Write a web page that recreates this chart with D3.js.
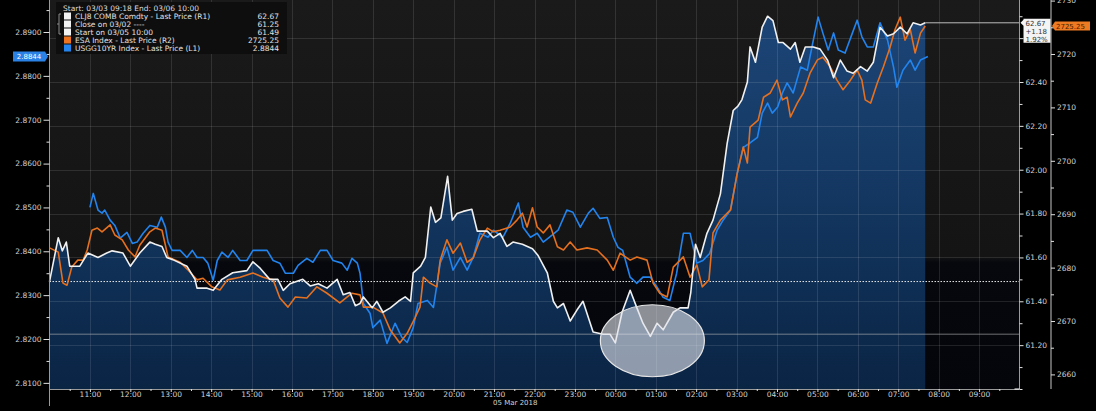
<!DOCTYPE html>
<html><head><meta charset="utf-8">
<script src="https://cdn.jsdelivr.net/npm/d3@7"></script>
<style>
html,body{margin:0;padding:0;background:#000;overflow:hidden}
svg{display:block;font-family:"DejaVu Sans",sans-serif}
</style></head><body>
<svg id="chart" width="1096" height="411"></svg>
<script>
// ---------- DATA ----------
// times are "HH:MM"; hours before 10 belong to 06 Mar 2018, the rest to 05 Mar 2018
const clTimes = ["10:00","10:13","10:19","10:25","10:30","10:35","10:45","10:57","11:12","11:25","11:33","11:49","12:00","12:14","12:29","12:37","12:47","12:54","13:03","13:24","13:36","13:39","13:54","14:03","14:16","14:32","14:53","15:02","15:13","15:27","15:39","15:47","15:57","16:16","16:27","16:39","16:52","17:07","17:16","17:26","17:34","17:41","17:46","17:59","18:06","18:15","18:26","18:38","18:48","18:56","19:00","19:11","19:18","19:26","19:33","19:41","19:51","19:58","20:05","20:14","20:27","20:35","20:50","20:59","21:09","21:19","21:28","21:42","21:57","22:05","22:19","22:28","22:34","22:43","22:53","23:03","23:12","23:27","23:42","23:52","00:00","00:10","00:22","00:32","00:41","00:52","01:02","01:11","01:26","01:36","01:48","01:52","01:59","02:06","02:16","02:25","02:36","02:46","02:55","03:02","03:08","03:16","03:20","03:28","03:38","03:46","03:54","04:02","04:09","04:20","04:27","04:34","04:42","04:54","05:04","05:15","05:24","05:34","05:44","05:53","06:04","06:14","06:23","06:33","06:44","06:53","07:03","07:13","07:22","07:33","07:40"];
const clValues = [61.49,61.69,61.63,61.67,61.56,61.56,61.56,61.62,61.60,61.62,61.63,61.62,61.56,61.62,61.67,61.66,61.65,61.60,61.59,61.56,61.50,61.46,61.46,61.45,61.50,61.53,61.54,61.58,61.55,61.50,61.50,61.45,61.48,61.50,61.47,61.48,61.46,61.50,61.43,61.44,61.38,61.39,61.42,61.37,61.40,61.35,61.37,61.40,61.42,61.40,61.53,61.56,61.60,61.83,61.76,61.78,61.97,61.77,61.80,61.81,61.82,61.72,61.72,61.69,61.71,61.65,61.67,61.66,61.64,61.61,61.53,61.40,61.37,61.39,61.31,61.36,61.40,61.26,61.25,61.25,61.21,61.35,61.45,61.37,61.30,61.24,61.30,61.27,61.35,61.37,61.37,61.44,61.66,61.60,61.71,61.77,61.89,62.12,62.27,62.29,62.32,62.40,62.56,62.49,62.65,62.70,62.68,62.58,62.58,62.55,62.58,62.49,62.56,62.56,62.55,62.50,62.42,62.50,62.45,62.44,62.47,62.45,62.49,62.65,62.61,62.62,62.65,62.62,62.67,62.66,62.67];

const esTimes = ["10:00","10:13","10:20","10:26","10:33","10:42","10:50","10:56","11:03","11:11","11:18","11:30","11:37","11:48","11:57","12:07","12:14","12:29","12:37","12:47","12:56","13:14","13:26","13:39","13:48","14:01","14:13","14:24","14:43","15:02","15:17","15:32","15:42","15:54","16:05","16:22","16:37","16:52","17:11","17:29","17:41","17:46","18:00","18:15","18:26","18:40","18:51","19:03","19:10","19:15","19:25","19:35","19:40","19:50","19:59","20:10","20:20","20:29","20:39","20:50","20:59","21:09","21:24","21:34","21:42","21:49","21:57","22:04","22:13","22:23","22:34","22:43","22:53","23:03","23:18","23:33","23:48","23:57","00:07","00:22","00:32","00:47","00:56","01:06","01:17","01:26","01:41","01:51","02:01","02:09","02:19","02:25","02:36","02:51","03:01","03:10","03:16","03:20","03:32","03:40","03:50","04:00","04:08","04:15","04:20","04:30","04:39","04:49","05:00","05:08","05:19","05:29","05:38","05:49","05:59","06:06","06:11","06:19","06:29","06:38","06:48","06:55","07:03","07:10","07:18","07:25","07:33","07:40"];
const esValues = [2683.7,2682.9,2677.1,2676.7,2680.1,2681.4,2681.4,2683.3,2687.0,2687.4,2686.7,2688.0,2686.1,2685.2,2683.3,2682.0,2684.2,2686.7,2687.4,2687.0,2682.0,2681.0,2679.5,2677.7,2678.0,2676.4,2675.8,2677.7,2678.2,2679.0,2678.2,2677.7,2674.3,2672.6,2674.5,2674.3,2676.4,2675.2,2673.4,2675.2,2674.9,2672.6,2672.6,2671.5,2668.3,2665.9,2667.7,2670.7,2672.6,2678.2,2677.1,2676.4,2681.4,2685.2,2682.7,2684.6,2681.0,2681.8,2685.2,2687.4,2686.7,2687.0,2687.6,2688.9,2690.2,2687.6,2691.2,2687.6,2686.5,2688.0,2683.9,2683.3,2684.8,2683.3,2683.7,2683.3,2681.4,2679.5,2682.7,2681.4,2682.0,2681.4,2677.1,2675.2,2674.5,2680.1,2682.0,2678.2,2680.5,2676.4,2677.7,2686.5,2688.9,2690.8,2697.7,2702.6,2699.6,2706.3,2707.6,2711.9,2712.7,2715.1,2711.4,2711.9,2708.2,2710.8,2712.7,2716.4,2718.9,2719.4,2717.6,2715.1,2713.3,2715.1,2717.0,2715.1,2711.4,2710.8,2714.6,2717.6,2721.3,2724.5,2726.9,2722.6,2724.5,2720.2,2723.9,2725.25];

const tyTimes = ["11:00","11:05","11:12","11:18","11:22","11:30","11:37","11:45","11:55","12:03","12:10","12:19","12:29","12:40","12:46","12:52","12:56","13:02","13:14","13:24","13:32","13:39","13:48","13:55","14:03","14:09","14:16","14:25","14:32","14:43","14:53","15:02","15:13","15:23","15:32","15:42","15:50","16:02","16:09","16:22","16:31","16:42","16:52","17:01","17:14","17:22","17:29","17:37","17:41","17:46","17:56","18:00","18:11","18:21","18:33","18:43","18:51","19:00","19:07","19:21","19:30","19:40","19:50","19:59","20:10","20:20","20:29","20:39","20:51","20:59","21:13","21:24","21:36","21:43","21:54","22:04","22:13","22:26","22:35","22:48","22:57","23:08","23:20","23:27","23:37","23:48","23:57","00:04","00:11","00:22","00:32","00:41","00:52","01:02","01:11","01:21","01:31","01:41","01:51","02:01","02:10","02:20","02:31","02:40","02:51","03:01","03:10","03:20","03:31","03:38","03:46","03:53","04:01","04:08","04:15","04:24","04:35","04:45","04:54","05:01","05:08","05:16","05:24","05:31","05:41","05:52","05:59","06:06","06:14","06:23","06:33","06:44","06:53","06:58","07:07","07:18","07:25","07:33","07:44"];
const tyValues = [2.8500,2.8532,2.8494,2.8487,2.8494,2.8471,2.8459,2.8430,2.8443,2.8418,2.8421,2.8441,2.8459,2.8455,2.8478,2.8455,2.8421,2.8402,2.8402,2.8386,2.8402,2.8386,2.8386,2.8373,2.8334,2.8379,2.8398,2.8386,2.8402,2.8379,2.8379,2.8402,2.8402,2.8402,2.8379,2.8373,2.8350,2.8350,2.8368,2.8384,2.8375,2.8402,2.8402,2.8379,2.8373,2.8357,2.8384,2.8373,2.8350,2.8281,2.8258,2.8226,2.8243,2.8190,2.8236,2.8204,2.8192,2.8226,2.8281,2.8288,2.8272,2.8373,2.8409,2.8357,2.8386,2.8357,2.8386,2.8441,2.8432,2.8448,2.8432,2.8464,2.8510,2.8455,2.8432,2.8441,2.8421,2.8437,2.8448,2.8494,2.8489,2.8455,2.8487,2.8498,2.8475,2.8477,2.8432,2.8409,2.8402,2.8341,2.8327,2.8341,2.8341,2.8318,2.8295,2.8288,2.8350,2.8441,2.8441,2.8373,2.8379,2.8395,2.8448,2.8471,2.8494,2.8578,2.8637,2.8647,2.8660,2.8715,2.8738,2.8715,2.8729,2.8761,2.8784,2.8761,2.8820,2.8813,2.8882,2.8934,2.8898,2.8859,2.8898,2.8859,2.8852,2.8898,2.8927,2.8889,2.8866,2.8866,2.8921,2.8882,2.8820,2.8774,2.8813,2.8836,2.8813,2.8836,2.8844];

const closePrev = 61.25;     // Close on 03/02
const startPrice = 61.49;    // Start on 03/05 10:00
const clLast = 62.67, clChange = "+1.18", clPct = "1.92%";
const esLast = 2725.25;
const tyLast = 2.8844;

const leftTicks = [2.81,2.82,2.83,2.84,2.85,2.86,2.87,2.88,2.89];
const leftMinor = [2.815,2.825,2.835,2.845,2.855,2.865,2.875,2.885,2.895];
const r1Ticks = [61.2,61.4,61.6,61.8,62.0,62.2,62.4,62.6];
const r1Minor = [61.0,61.1,61.3,61.5,61.7,61.9,62.1,62.3,62.5,62.7];
const r2Ticks = [2660,2670,2680,2690,2700,2710,2720,2730];
const r2Minor = [2665,2675,2685,2695,2705,2715,2725];
const xTickLabels = ["11:00","12:00","13:00","14:00","15:00","16:00","17:00","18:00","19:00","20:00","21:00","22:00","23:00","00:00","01:00","02:00","03:00","04:00","05:00","06:00","07:00","08:00","09:00"];
const xMinorLabels = ["10:30","11:30","12:30","13:30","14:30","15:30","16:30","17:30","18:30","19:30","20:30","21:30","22:30","23:30","00:30","01:30","02:30","03:30","04:30","05:30","06:30","07:30","08:30","09:30"];
const dateLabel = "05 Mar 2018";
const legendHeader = "Start: 03/03 09:18 End: 03/06 10:00";
const legendNames = ["CLJ8 COMB Comdty - Last Price (R1)","Close on 03/02 ----","Start on 03/05 10:00","ESA Index - Last Price (R2)","USGG10YR Index - Last Price (L1)"];
const legendValues = ["62.67","61.25","61.49","2725.25","2.8844"];
const legendColors = ["#f2f2f2","#f2f2f2","#f2f2f2","#ec7420","#2583ec"];
const circleTime = "00:55", circleValue = 61.22;

// ---------- HELPERS ----------
const parseT = s => { const [h,m] = s.split(":").map(Number); return new Date(2018, 2, h < 10 ? 6 : 5, h, m); };
const zip = (ts, vs) => ts.map((t,i) => ({t: parseT(t), v: vs[i]}));
const cl = zip(clTimes, clValues), es = zip(esTimes, esValues), ty = zip(tyTimes, tyValues);

const P = {l:49.5, r:1019.5, t:0, b:389};
const svg = d3.select("#chart");
const x = d3.scaleTime().domain([new Date(2018,2,5,10,0), new Date(2018,2,6,10,0)]).range([P.l, P.r]);
const yL = d3.scaleLinear().domain([2.8086, 2.8973]).range([P.b, P.t]);
const yR1 = d3.scaleLinear().domain([61.0, 62.774]).range([P.b, P.t]);
const yR2 = d3.scaleLinear().domain([2657.27, 2730.11]).range([P.b, P.t]);

const defs = svg.append("defs");
const bg = defs.append("linearGradient").attr("id","bg").attr("x1",0).attr("y1",0).attr("x2",0).attr("y2",1);
[[0,"#1a1a1a"],[0.66,"#141414"],[0.675,"#06080d"],[1,"#03050a"]].forEach(s=>bg.append("stop").attr("offset",s[0]).attr("stop-color",s[1]));
const ag = defs.append("linearGradient").attr("id","ag").attr("gradientUnits","userSpaceOnUse").attr("x1",0).attr("y1",0).attr("x2",0).attr("y2",P.b);
[[0,"#1d4678"],[0.5,"#133761"],[1,"#0a2444"]].forEach(s=>ag.append("stop").attr("offset",s[0]).attr("stop-color",s[1]));

svg.append("rect").attr("width",1096).attr("height",411).attr("fill","#000");
svg.append("rect").attr("x",P.l).attr("y",P.t).attr("width",P.r-P.l).attr("height",P.b-P.t).attr("fill","url(#bg)");

// area under CL
svg.append("path").datum(cl)
  .attr("d", d3.area().x(d=>x(d.t)).y0(P.b).y1(d=>yR1(d.v)))
  .attr("fill","url(#ag)");

// grid
const grid = svg.append("g").attr("stroke","rgba(255,255,255,0.11)").attr("stroke-width",1);
xTickLabels.forEach(s=>{ const xx=Math.round(x(parseT(s)))+0.5; grid.append("line").attr("x1",xx).attr("x2",xx).attr("y1",P.t).attr("y2",P.b); });
r1Ticks.forEach(v=>{ const yy=Math.round(yR1(v))+0.5; grid.append("line").attr("x1",P.l).attr("x2",P.r).attr("y1",yy).attr("y2",yy); });

// reference lines
svg.append("line").attr("x1",P.l).attr("x2",P.r).attr("y1",yR1(closePrev)).attr("y2",yR1(closePrev))
  .attr("stroke","#b8b8b8").attr("stroke-opacity",0.6).attr("stroke-width",1);
svg.append("line").attr("x1",P.l).attr("x2",P.r).attr("y1",yR1(startPrice)).attr("y2",yR1(startPrice))
  .attr("stroke","#e8e8e8").attr("stroke-width",1).attr("stroke-dasharray","1.5,1.5");
const lastCl = cl[cl.length-1];
svg.append("line").attr("x1",x(lastCl.t)).attr("x2",P.r).attr("y1",yR1(clLast)).attr("y2",yR1(clLast))
  .attr("stroke","#bdbdbd").attr("stroke-width",1);

// lines
const mk = (data, ys, col) => svg.append("path").datum(data)
  .attr("d", d3.line().x(d=>x(d.t)).y(d=>ys(d.v)))
  .attr("fill","none").attr("stroke",col).attr("stroke-width",1.6).attr("stroke-linejoin","round");
mk(ty, yL, "#2284ee");
mk(es, yR2, "#e5701f");
mk(cl, yR1, "#f0f0f0");

// annotation ellipse
svg.append("ellipse").attr("cx", x(parseT(circleTime))).attr("cy", yR1(circleValue)).attr("rx",52).attr("ry",36)
  .attr("fill","rgba(225,228,235,0.62)").attr("stroke","#e6e6e6").attr("stroke-width",1.2);

// ---------- AXES ----------
const axisCol = "#9a9a9a", txtCol = "#d2d2d2", fs = "7.5px";
const styleAxis = (g) => { g.select(".domain").remove(); g.selectAll("line").attr("stroke","#e0e0e0"); g.selectAll("text").attr("fill",txtCol).style("font-size",fs).style("font-family","DejaVu Sans"); };

// left
svg.append("line").attr("x1",P.l).attr("x2",P.l).attr("y1",0).attr("y2",406).attr("stroke",axisCol);
svg.append("g").attr("transform",`translate(${P.l},0)`).call(d3.axisLeft(yL).tickValues(leftTicks).tickSize(6).tickPadding(2).tickFormat(d3.format(".4f"))).call(styleAxis);
svg.append("g").attr("transform",`translate(${P.l},0)`).call(d3.axisLeft(yL).tickValues(leftMinor).tickSize(3).tickFormat("")).call(styleAxis);

// right R1
svg.append("line").attr("x1",P.r).attr("x2",P.r).attr("y1",0).attr("y2",P.b).attr("stroke",axisCol);
svg.append("g").attr("transform",`translate(${P.r},0)`).call(d3.axisRight(yR1).tickValues(r1Ticks).tickSize(4).tickPadding(2).tickFormat(d3.format(".2f"))).call(styleAxis);
svg.append("g").attr("transform",`translate(${P.r},0)`).call(d3.axisRight(yR1).tickValues(r1Minor).tickSize(3).tickFormat("")).call(styleAxis);

// right R2
const r2x = 1051;
svg.append("line").attr("x1",r2x).attr("x2",r2x).attr("y1",0).attr("y2",P.b).attr("stroke",axisCol).attr("stroke-width",1.3);
svg.append("g").attr("transform",`translate(${r2x},0)`).call(d3.axisRight(yR2).tickValues(r2Ticks).tickSize(4).tickPadding(2).tickFormat(d3.format("d"))).call(styleAxis);
svg.append("g").attr("transform",`translate(${r2x},0)`).call(d3.axisRight(yR2).tickValues(r2Minor).tickSize(3).tickFormat("")).call(styleAxis);

// bottom
svg.append("line").attr("x1",P.l).attr("x2",P.r).attr("y1",P.b+0.5).attr("y2",P.b+0.5).attr("stroke",axisCol);
svg.append("g").attr("transform",`translate(0,${P.b})`).call(d3.axisBottom(x).tickValues(xTickLabels.map(parseT)).tickSize(3).tickPadding(0).tickFormat(d3.timeFormat("%H:%M"))).call(styleAxis);
svg.append("g").attr("transform",`translate(0,${P.b})`).call(d3.axisBottom(x).tickValues(xMinorLabels.map(parseT)).tickSize(2).tickFormat("")).call(styleAxis);
svg.append("line").attr("x1",P.r-5).attr("x2",P.r).attr("y1",P.b).attr("y2",P.b).attr("stroke","#fff");
svg.append("text").attr("x", (x(parseT("21:00"))+x(parseT("22:00")))/2+1).attr("y",405).attr("text-anchor","middle")
  .attr("fill",txtCol).style("font-size","7px").text(dateLabel);

// ---------- VALUE TAGS ----------
// CL tag (R1)
const cy1 = yR1(clLast);
svg.append("path").attr("d",`M${P.r+1},${cy1} L${P.r+4},${cy1-3} L${P.r+4},${cy1-4} L${P.r+31},${cy1-4} L${P.r+31},${cy1+20} L${P.r+4},${cy1+20} L${P.r+4},${cy1+3} Z`).attr("fill","#f4f4f4");
[[clLast.toFixed(2),0],[clChange,8],[clPct,16]].forEach(([t,dy])=>svg.append("text").attr("x",P.r+6).attr("y",cy1+3+dy).attr("fill","#333").style("font-size","7px").text(t));
// ES tag (R2)
const cy2 = yR2(esLast);
svg.append("path").attr("d",`M${r2x+1},${cy2} L${r2x+4},${cy2-4.5} L${r2x+39},${cy2-4.5} L${r2x+39},${cy2+4.5} L${r2x+4},${cy2+4.5} Z`).attr("fill","#ee7a22");
svg.append("text").attr("x",r2x+5).attr("y",cy2+2.6).attr("fill","#4a2000").style("font-size","7px").text(esLast.toFixed(2));
// TY tag (L1)
const cy3 = yL(tyLast);
svg.append("path").attr("d",`M13,${cy3-5} L45,${cy3-5} L48,${cy3} L45,${cy3+5} L13,${cy3+5} Z`).attr("fill","#2a82e6");
svg.append("text").attr("x",29).attr("y",cy3+2.6).attr("text-anchor","middle").attr("fill","#fff").style("font-size","7px").text(tyLast.toFixed(4));

// ---------- LEGEND ----------
const lg = svg.append("g");
lg.append("rect").attr("x",56).attr("y",2).attr("width",231).attr("height",52).attr("fill","#0e0e0e");
lg.append("text").attr("x",63).attr("y",10.5).attr("fill","#dcdcdc").style("font-size",fs).text(legendHeader);
lg.append("path").attr("d","M61,14 L59,14 L59,34 L61,34 M57,24 L59,24").attr("stroke","#8a8a8a").attr("fill","none");
legendNames.forEach((n,i)=>{
  const cy = 16 + i*8;
  lg.append("rect").attr("x",64).attr("y",cy-3.5).attr("width",7).attr("height",7).attr("fill",legendColors[i]);
  lg.append("text").attr("x",75).attr("y",cy+2.7).attr("fill","#e2e2e2").style("font-size",fs).text(n);
  lg.append("text").attr("x",279).attr("y",cy+2.7).attr("text-anchor","end").attr("fill","#e2e2e2").style("font-size",fs).text(legendValues[i]);
});
</script>
</body></html>
